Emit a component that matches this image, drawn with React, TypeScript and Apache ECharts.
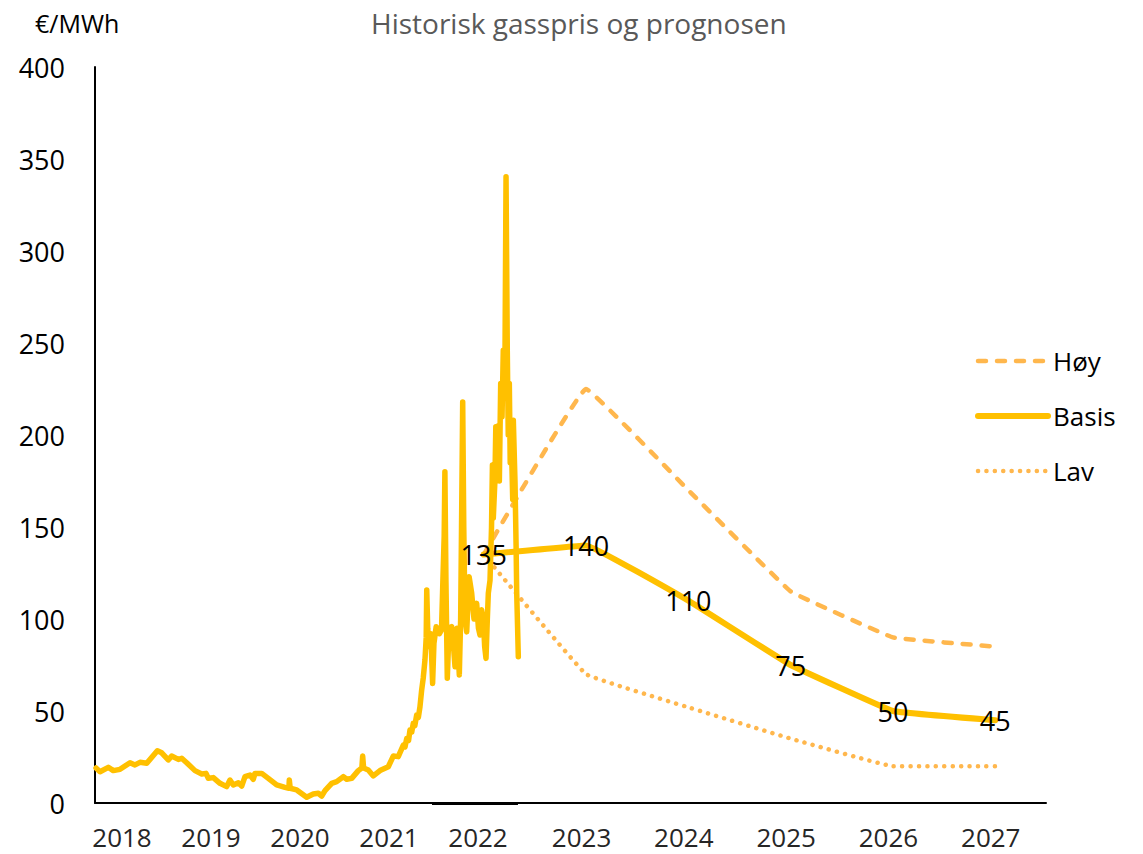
import React, { useEffect, useRef } from "react";
import * as echarts from "echarts";

const title = "Historisk gasspris og prognosen";
const unitLabel = "€/MWh";

const historyYearLabels = [2018, 2019, 2020, 2021, 2022];
const forecastYearLabels = [2023, 2024, 2025, 2026, 2027];

const forecastYears = [2022, 2023, 2024, 2025, 2026, 2027];
const hoy = [135, 225, 170, 115, 90, 85];
const basis = [135, 140, 110, 75, 50, 45];
const lav = [135, 70, 52, 35, 20, 20];

// [position on the history axis (year label frame), €/MWh]
const history: [number, number][] = [
  [2017.708, 19], [2017.753, 17], [2017.846, 19.4], [2017.902, 17.6], [2017.978, 18.3],
  [2018.09, 21.9], [2018.146, 20.7], [2018.202, 22.1], [2018.278, 21.6], [2018.397, 28.4],
  [2018.446, 27.3], [2018.52, 23.4], [2018.558, 25.5], [2018.633, 23.7], [2018.671, 24.3],
  [2018.727, 21.9], [2018.82, 17.6], [2018.896, 15.8], [2018.944, 16.1], [2018.97, 13.4],
  [2019.026, 13.8], [2019.101, 10.7], [2019.176, 8.9], [2019.213, 12.5], [2019.251, 9.8],
  [2019.307, 11], [2019.345, 9.2], [2019.382, 14.3], [2019.438, 15.2], [2019.475, 12.9],
  [2019.494, 16.1], [2019.57, 16.1], [2019.644, 13.4], [2019.738, 9.8], [2019.831, 8.5],
  [2019.875, 8], [2019.88, 12.5], [2019.89, 8], [2019.963, 7.1], [2020.075, 3.1],
  [2020.149, 4.9], [2020.206, 5.3], [2020.244, 3.8], [2020.281, 6.7], [2020.356, 10.7],
  [2020.412, 11.6], [2020.487, 14.3], [2020.525, 12.9], [2020.581, 13.4], [2020.655, 17.6],
  [2020.695, 19], [2020.704, 25.5], [2020.715, 19], [2020.767, 17.9], [2020.824, 14.7],
  [2020.899, 17.6], [2020.992, 19.7], [2021.048, 25.5], [2021.104, 25.2], [2021.161, 31.5],
  [2021.18, 30.5], [2021.199, 35.1], [2021.22, 34], [2021.236, 39.7], [2021.255, 38.5],
  [2021.273, 43.3], [2021.29, 42], [2021.311, 47.8], [2021.33, 46.5], [2021.348, 52.3],
  [2021.367, 61.4], [2021.385, 68], [2021.404, 77.7], [2021.418, 90], [2021.424, 115.8],
  [2021.435, 95], [2021.45, 85], [2021.47, 92], [2021.49, 65], [2021.505, 86.8],
  [2021.53, 95.8], [2021.565, 92], [2021.59, 94], [2021.605, 120], [2021.62, 145],
  [2021.628, 180], [2021.64, 120], [2021.655, 67.8], [2021.675, 95], [2021.704, 95.8],
  [2021.725, 85], [2021.742, 74], [2021.765, 95], [2021.79, 69.6], [2021.805, 100],
  [2021.815, 150], [2021.828, 218], [2021.84, 150], [2021.854, 100], [2021.873, 93],
  [2021.9, 123], [2021.929, 114], [2021.955, 100], [2021.985, 108.5], [2022.005, 95],
  [2022.022, 91.3], [2022.04, 105], [2022.06, 99.5], [2022.075, 85], [2022.09, 78.6],
  [2022.105, 100], [2022.116, 114], [2022.135, 121], [2022.152, 150], [2022.162, 183.7],
  [2022.172, 155], [2022.19, 175], [2022.2, 204.5], [2022.215, 185], [2022.228, 205],
  [2022.24, 175], [2022.255, 228], [2022.27, 210], [2022.284, 246], [2022.303, 240],
  [2022.315, 340.4], [2022.329, 246], [2022.34, 200], [2022.352, 228], [2022.362, 185],
  [2022.371, 205], [2022.39, 165], [2022.397, 208], [2022.416, 174], [2022.428, 140],
  [2022.435, 114], [2022.445, 95], [2022.453, 79.5],
];

// segment of the pasted history chart's own axis (darker)
const historyAxisSpan = [2021.483, 2022.449];

const FONT = "'Open Sans', 'Noto Sans', sans-serif";
const GOLD = "#FFC000";
const LIGHT = "#FFB74D";

export default function App() {
  const ref = useRef<HTMLDivElement>(null);

  useEffect(() => {
    if (!ref.current) return;
    const chart = echarts.init(ref.current, undefined, { renderer: "svg" });

    const option: any = {
      animation: false,
      backgroundColor: "#ffffff",
      textStyle: { fontFamily: FONT },
      title: [
        {
          text: title,
          left: 366,
          top: 4,
          textStyle: { fontFamily: FONT, fontSize: 28, fontWeight: "normal", color: "#595959" },
        },
        {
          text: unitLabel,
          left: 30,
          top: 5,
          textStyle: { fontFamily: FONT, fontSize: 25, fontWeight: "normal", color: "#000000" },
        },
      ],
      legend: {
        orient: "vertical",
        left: 970,
        top: 341,
        itemWidth: 70,
        itemHeight: 14,
        itemGap: 25,
        itemStyle: { opacity: 0 },
        textStyle: { fontFamily: FONT, fontSize: 26, color: "#000000", lineHeight: 30 },
        data: [
          { name: "Høy", lineStyle: { width: 4.5, type: [8, 11], cap: "round", color: LIGHT } },
          { name: "Basis", lineStyle: { width: 6, type: "solid", cap: "round", color: GOLD } },
          { name: "Lav", lineStyle: { width: 4.5, type: [0.1, 8.3], cap: "round", color: LIGHT } },
        ],
      },
      grid: [
        { left: 95, right: 97, top: 67, bottom: 51 },
        { left: 33, right: 131, top: 67, bottom: 51 },
        { left: 74.55, right: 45.45, top: 67, bottom: 51 },
      ],
      xAxis: [
        {
          gridIndex: 0,
          type: "value",
          min: 0,
          max: 1,
          axisLine: { show: true, lineStyle: { color: "#000000", width: 2 } },
          axisTick: { show: false },
          axisLabel: { show: false },
          splitLine: { show: false },
        },
        {
          gridIndex: 1,
          type: "value",
          min: 2017,
          max: 2028,
          interval: 1,
          axisLine: { show: false },
          axisTick: { show: false },
          splitLine: { show: false },
          axisLabel: {
            margin: 21,
            fontFamily: FONT,
            fontSize: 26,
            lineHeight: 26,
            color: "#262626",
            formatter: (v: number) => (historyYearLabels.includes(Math.round(v)) ? String(Math.round(v)) : ""),
          },
        },
        {
          gridIndex: 2,
          type: "value",
          min: 2018,
          max: 2028,
          interval: 1,
          axisLine: { show: false },
          axisTick: { show: false },
          splitLine: { show: false },
          axisLabel: {
            margin: 21,
            fontFamily: FONT,
            fontSize: 26,
            lineHeight: 26,
            color: "#262626",
            padding: [0, 9, 0, 0],
            formatter: (v: number) => (forecastYearLabels.includes(Math.round(v)) ? String(Math.round(v)) : ""),
          },
        },
      ],
      yAxis: [
        {
          gridIndex: 0,
          type: "value",
          min: 0,
          max: 400,
          interval: 50,
          axisLine: { show: true, lineStyle: { color: "#000000", width: 2 } },
          axisTick: { show: false },
          splitLine: { show: false },
          axisLabel: { margin: 30, fontFamily: FONT, fontSize: 27, color: "#000000", padding: [0, 0, 4, 0] },
        },
        { gridIndex: 1, type: "value", min: 0, max: 400, show: false },
        { gridIndex: 2, type: "value", min: 0, max: 400, show: false },
      ],
      series: [
        {
          name: "Høy",
          type: "line",
          xAxisIndex: 2,
          yAxisIndex: 2,
          data: forecastYears.map((y, i) => [y, hoy[i]]),
          symbol: "none",
          smooth: 0.06,
          z: 1,
          lineStyle: { color: LIGHT, width: 4.5, type: [8, 11], cap: "round" },
          itemStyle: { color: LIGHT },
        },
        {
          name: "Lav",
          type: "line",
          xAxisIndex: 2,
          yAxisIndex: 2,
          data: forecastYears.map((y, i) => [y, lav[i]]),
          symbol: "none",
          smooth: 0.06,
          z: 1,
          lineStyle: { color: LIGHT, width: 4.5, type: [0.1, 8.3], cap: "round" },
          itemStyle: { color: LIGHT },
        },
        {
          name: "Historisk",
          type: "line",
          xAxisIndex: 1,
          yAxisIndex: 1,
          data: history,
          symbol: "none",
          z: 2,
          lineStyle: { color: GOLD, width: 5.5, join: "round", cap: "round" },
          itemStyle: { color: GOLD },
          markLine: {
            silent: true,
            symbol: "none",
            label: { show: false },
            lineStyle: { color: "#000000", width: 3, type: "solid" },
            data: [[{ coord: [historyAxisSpan[0], 0] }, { coord: [historyAxisSpan[1], 0] }]],
          },
        },
        {
          name: "Basis",
          type: "line",
          xAxisIndex: 2,
          yAxisIndex: 2,
          data: forecastYears.map((y, i) => [y, basis[i]]),
          symbol: "circle",
          symbolSize: 1,
          showSymbol: true,
          smooth: 0.06,
          z: 3,
          lineStyle: { color: GOLD, width: 6, cap: "round" },
          itemStyle: { color: GOLD, opacity: 0 },
          label: {
            show: true,
            position: "inside",
            fontFamily: FONT,
            fontSize: 27,
            color: "#000000",
            opacity: 1,
            formatter: (p: any) => String(p.value[1]),
          },
        },
      ],
    };

    chart.setOption(option);
    return () => chart.dispose();
  }, []);

  return (
    <div
      ref={ref}
      style={{ position: "fixed", left: 0, top: 0, width: 1143, height: 854, background: "#fff" }}
    />
  );
}
